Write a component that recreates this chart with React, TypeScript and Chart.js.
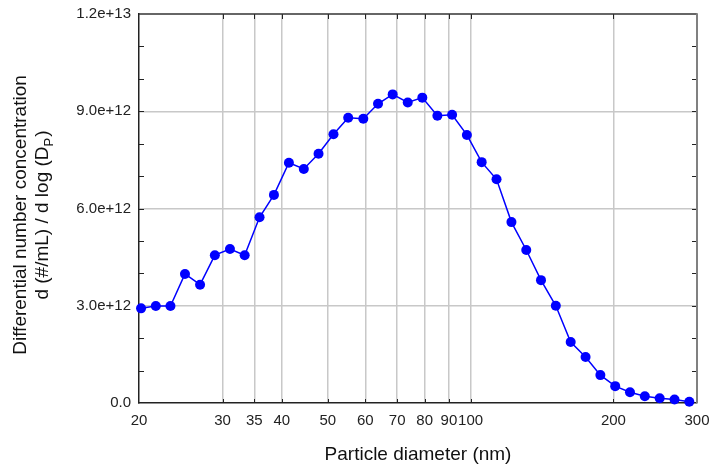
import React, { useEffect, useRef } from "react";
import { Chart, registerables } from "chart.js";

Chart.register(...registerables);

// Particle diameters (nm), channel midpoints
const diameters = [
  20.2, 21.7, 23.3, 25.0, 26.9, 28.9, 31.1, 33.4, 35.9, 38.5,
  41.4, 44.5, 47.8, 51.4, 55.2, 59.4, 63.8, 68.5, 73.7, 79.1,
  85.1, 91.4, 98.2, 105.5, 113.4, 121.9, 131.0, 140.7, 151.2, 162.5,
  174.7, 187.7, 201.7, 216.7, 232.9, 250.3, 269.0, 289.0,
];
// dN/dlogDp in units of 1e12 #/mL
const concentration = [
  2.92, 2.99, 2.99, 3.98, 3.65, 4.56, 4.75, 4.56, 5.73, 6.42,
  7.41, 7.22, 7.69, 8.29, 8.80, 8.77, 9.23, 9.52, 9.27, 9.42,
  8.86, 8.89, 8.27, 7.43, 6.90, 5.58, 4.72, 3.79, 3.00, 1.88,
  1.42, 0.86, 0.52, 0.33, 0.21, 0.145, 0.11, 0.04,
];
const xTickValues = [20, 30, 35, 40, 50, 60, 70, 80, 90, 100, 200, 300];
const yMax = 1.2e13;
const yStep = 1e12;
const yLabelEvery = 3; // label every 3e12

const xTitle = "Particle diameter (nm)";
const yTitle1 = "Differential number concentration";
const yTitle2a = "d (#/mL) / d log (D";
const yTitle2sub = "P";
const yTitle2b = ")";

const FONT = '"Liberation Sans", Arial, Helvetica, sans-serif';
const TICK_SIZE = 15;
const TITLE_SIZE = 19;

const framePlugin = {
  id: "frame",
  beforeDatasetsDraw(chart: any) {
    const { ctx, chartArea } = chart;
    const { left, right, top, bottom } = chartArea;
    const xs = chart.scales.x;
    const ys = chart.scales.y;
    ctx.save();
    // inward tick marks
    ctx.strokeStyle = "#222";
    ctx.lineWidth = 1;
    for (let v = yStep; v < yMax - 1; v += yStep) {
      const py = Math.round(ys.getPixelForValue(v)) + 0.5;
      ctx.beginPath();
      ctx.moveTo(left, py);
      ctx.lineTo(left + 5, py);
      ctx.moveTo(right, py);
      ctx.lineTo(right - 5, py);
      ctx.stroke();
    }
    xTickValues.forEach((v) => {
      if (v === xTickValues[0] || v === xTickValues[xTickValues.length - 1]) return;
      const px = Math.round(xs.getPixelForValue(v)) + 0.5;
      ctx.beginPath();
      ctx.moveTo(px, top);
      ctx.lineTo(px, top + 5);
      ctx.moveTo(px, bottom);
      ctx.lineTo(px, bottom - 4);
      ctx.stroke();
    });
    // top border
    ctx.strokeStyle = "#333";
    ctx.lineWidth = 1.5;
    ctx.beginPath();
    ctx.moveTo(left, top);
    ctx.lineTo(right, top);
    ctx.stroke();
    // right border
    ctx.strokeStyle = "#808080";
    ctx.lineWidth = 2;
    ctx.beginPath();
    ctx.moveTo(right, top - 0.75);
    ctx.lineTo(right, bottom);
    ctx.stroke();
    ctx.restore();
  },
  afterDraw(chart: any) {
    const { ctx, chartArea } = chart;
    ctx.save();
    ctx.fillStyle = "#111";
    ctx.textAlign = "center";
    ctx.textBaseline = "middle";
    ctx.font = `${TITLE_SIZE}px ${FONT}`;
    ctx.fillText(xTitle, (chartArea.left + chartArea.right) / 2, 455);

    const cy = 215;
    ctx.translate(21, cy);
    ctx.rotate(-Math.PI / 2);
    ctx.fillText(yTitle1, 0, 0);
    ctx.restore();

    ctx.save();
    ctx.fillStyle = "#111";
    ctx.textBaseline = "middle";
    ctx.translate(43, cy);
    ctx.rotate(-Math.PI / 2);
    ctx.font = `${TITLE_SIZE}px ${FONT}`;
    const wa = ctx.measureText(yTitle2a).width;
    const wb = ctx.measureText(yTitle2b).width;
    ctx.font = `13px ${FONT}`;
    const ws = ctx.measureText(yTitle2sub).width;
    const total = wa + ws + wb + 1;
    const x0 = -total / 2;
    ctx.textAlign = "left";
    ctx.font = `${TITLE_SIZE}px ${FONT}`;
    ctx.fillText(yTitle2a, x0, 0);
    ctx.font = `13px ${FONT}`;
    ctx.fillText(yTitle2sub, x0 + wa, 6);
    ctx.font = `${TITLE_SIZE}px ${FONT}`;
    ctx.fillText(yTitle2b, x0 + wa + ws + 1, 0);
    ctx.restore();
  },
};

export default function App() {
  const canvasRef = useRef<HTMLCanvasElement | null>(null);

  useEffect(() => {
    document.body.style.margin = "0";
    const canvas = canvasRef.current;
    if (!canvas) return;
    const points = diameters.map((d, i) => ({ x: d, y: concentration[i] * 1e12 }));
    const chart = new Chart(canvas, {
      type: "line",
      data: {
        datasets: [
          {
            data: points,
            borderColor: "#0000ff",
            backgroundColor: "#0000ff",
            borderWidth: 1.5,
            pointRadius: 5,
            pointBackgroundColor: "#0000ff",
            pointBorderWidth: 0,
            tension: 0,
            clip: false as any,
          },
        ],
      },
      options: {
        responsive: false,
        animation: false,
        devicePixelRatio: 1,
        layout: { padding: { left: 0, top: 14, right: 12, bottom: 0 } },
        plugins: {
          legend: { display: false },
          tooltip: { enabled: false },
        },
        scales: {
          x: {
            type: "logarithmic",
            min: 20,
            max: 300,
            afterBuildTicks: (scale: any) => {
              scale.ticks = xTickValues.map((v) => ({ value: v }));
            },
            afterFit: (scale: any) => {
              scale.height = 65;
              scale.paddingLeft = 0;
              scale.paddingRight = 0;
            },
            ticks: {
              autoSkip: false,
              maxRotation: 0,
              minRotation: 0,
              padding: 9,
              color: "#222",
              font: { family: FONT, size: TICK_SIZE },
              callback: (v: any) => String(v),
            },
            grid: {
              drawTicks: false,
              lineWidth: 1.5,
              color: (c: any) => {
                const v = c.tick && c.tick.value;
                return v === 20 || v === 300 ? "rgba(0,0,0,0)" : "#c8c8c8";
              },
            },
            border: { display: true, color: "#222", width: 1.5 },
          },
          y: {
            type: "linear",
            min: 0,
            max: yMax,
            afterFit: (scale: any) => {
              scale.width = 139;
              scale.paddingTop = 0;
              scale.paddingBottom = 0;
            },
            ticks: {
              stepSize: yStep,
              autoSkip: false,
              padding: 8,
              color: "#222",
              font: { family: FONT, size: TICK_SIZE },
              callback: (v: any) => {
                const n = Math.round(Number(v) / yStep);
                if (n % yLabelEvery !== 0) return "";
                if (n === 0) return "0.0";
                return Number(v).toExponential(1);
              },
            },
            grid: {
              drawTicks: false,
              lineWidth: 1.5,
              color: (c: any) => {
                const v = c.tick ? Math.round(c.tick.value / yStep) : 0;
                return v % yLabelEvery === 0 && v !== 0 && v !== 12 ? "#c8c8c8" : "rgba(0,0,0,0)";
              },
            },
            border: { display: true, color: "#222", width: 1.5 },
          },
        },
      },
      plugins: [framePlugin],
    });
    return () => chart.destroy();
  }, []);

  return (
    <div style={{ position: "absolute", left: 0, top: 0, width: 709, height: 468, background: "#fff" }}>
      <canvas ref={canvasRef} width={709} height={468} style={{ display: "block" }} />
    </div>
  );
}
